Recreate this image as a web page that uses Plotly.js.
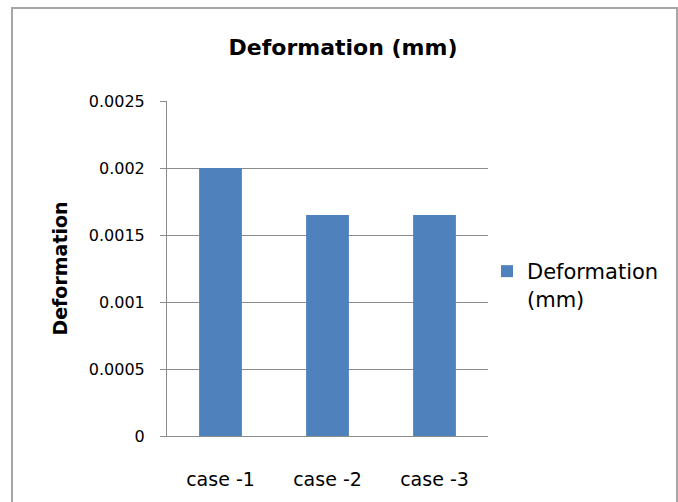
<!DOCTYPE html>
<html>
<head>
<meta charset="utf-8">
<script src="https://cdn.plot.ly/plotly-3.0.1.min.js"></script>
<style>html,body{margin:0;padding:0;background:#fff;}</style>
</head>
<body>
<div id="chart" style="width:678px;height:502px;"></div>
<script>
const categories = ["case -1", "case -2", "case -3"];
const deformation = [0.002, 0.00165, 0.00165];
const seriesName = "Deformation<br>(mm)";
const yTicks = [0, 0.0005, 0.001, 0.0015, 0.002, 0.0025];
const yTickText = ["0", "0.0005", "0.001", "0.0015", "0.002", "0.0025"];

const L = 167, R = 488, T = 101, B = 436, W = 678, H = 502;
const px = v => (v - L) / (R - L);
const py = v => (B - v) / (B - T);

const trace = {
  type: "bar",
  x: categories,
  y: deformation,
  name: seriesName,
  marker: {color: "#4f81bd"},
  showlegend: true
};

const layout = {
  width: W, height: H,
  margin: {l: L, r: W - R, t: T, b: H - B, pad: 0},
  paper_bgcolor: "#ffffff",
  plot_bgcolor: "#ffffff",
  bargap: 0.6,
  title: {
    text: "<b>Deformation (mm)</b>",
    font: {family: "DejaVu Sans", size: 22, color: "#000000"},
    x: 343 / W, xanchor: "center",
    y: 1 - 47 / H, yanchor: "middle", yref: "container"
  },
  xaxis: {
    showline: true, linecolor: "#8c8c8c", linewidth: 1,
    ticks: "", showgrid: false,
    tickfont: {family: "DejaVu Sans", size: 19, color: "#000000"},
    ticklabelstandoff: 26
  },
  yaxis: {
    range: [0, 0.0025],
    tickvals: yTicks, ticktext: yTickText,
    showline: true, linecolor: "#8c8c8c", linewidth: 1,
    ticks: "outside", ticklen: 6, tickcolor: "#8c8c8c",
    showgrid: true, gridcolor: "#8c8c8c", gridwidth: 1,
    zeroline: false,
    tickfont: {family: "DejaVu Sans", size: 16, color: "#000000"},
    ticklabelstandoff: 12,
    title: {
      text: "<b>Deformation</b>",
      font: {family: "DejaVu Sans", size: 19, color: "#000000"},
      standoff: 16
    }
  },
  legend: {
    x: px(487), xanchor: "left",
    y: py(285), yanchor: "middle",
    valign: "top",
    font: {family: "DejaVu Sans", size: 21, color: "#000000"},
    bgcolor: "rgba(0,0,0,0)",
    itemwidth: 30
  },
  shapes: [{
    type: "rect", xref: "paper", yref: "paper",
    x0: px(12), x1: px(677), y0: py(515), y1: py(8),
    line: {color: "#a6a6a6", width: 2}, fillcolor: "rgba(0,0,0,0)", layer: "below"
  }]
};

Plotly.newPlot("chart", [trace], layout, {displayModeBar: false, staticPlot: true});
</script>
</body>
</html>
